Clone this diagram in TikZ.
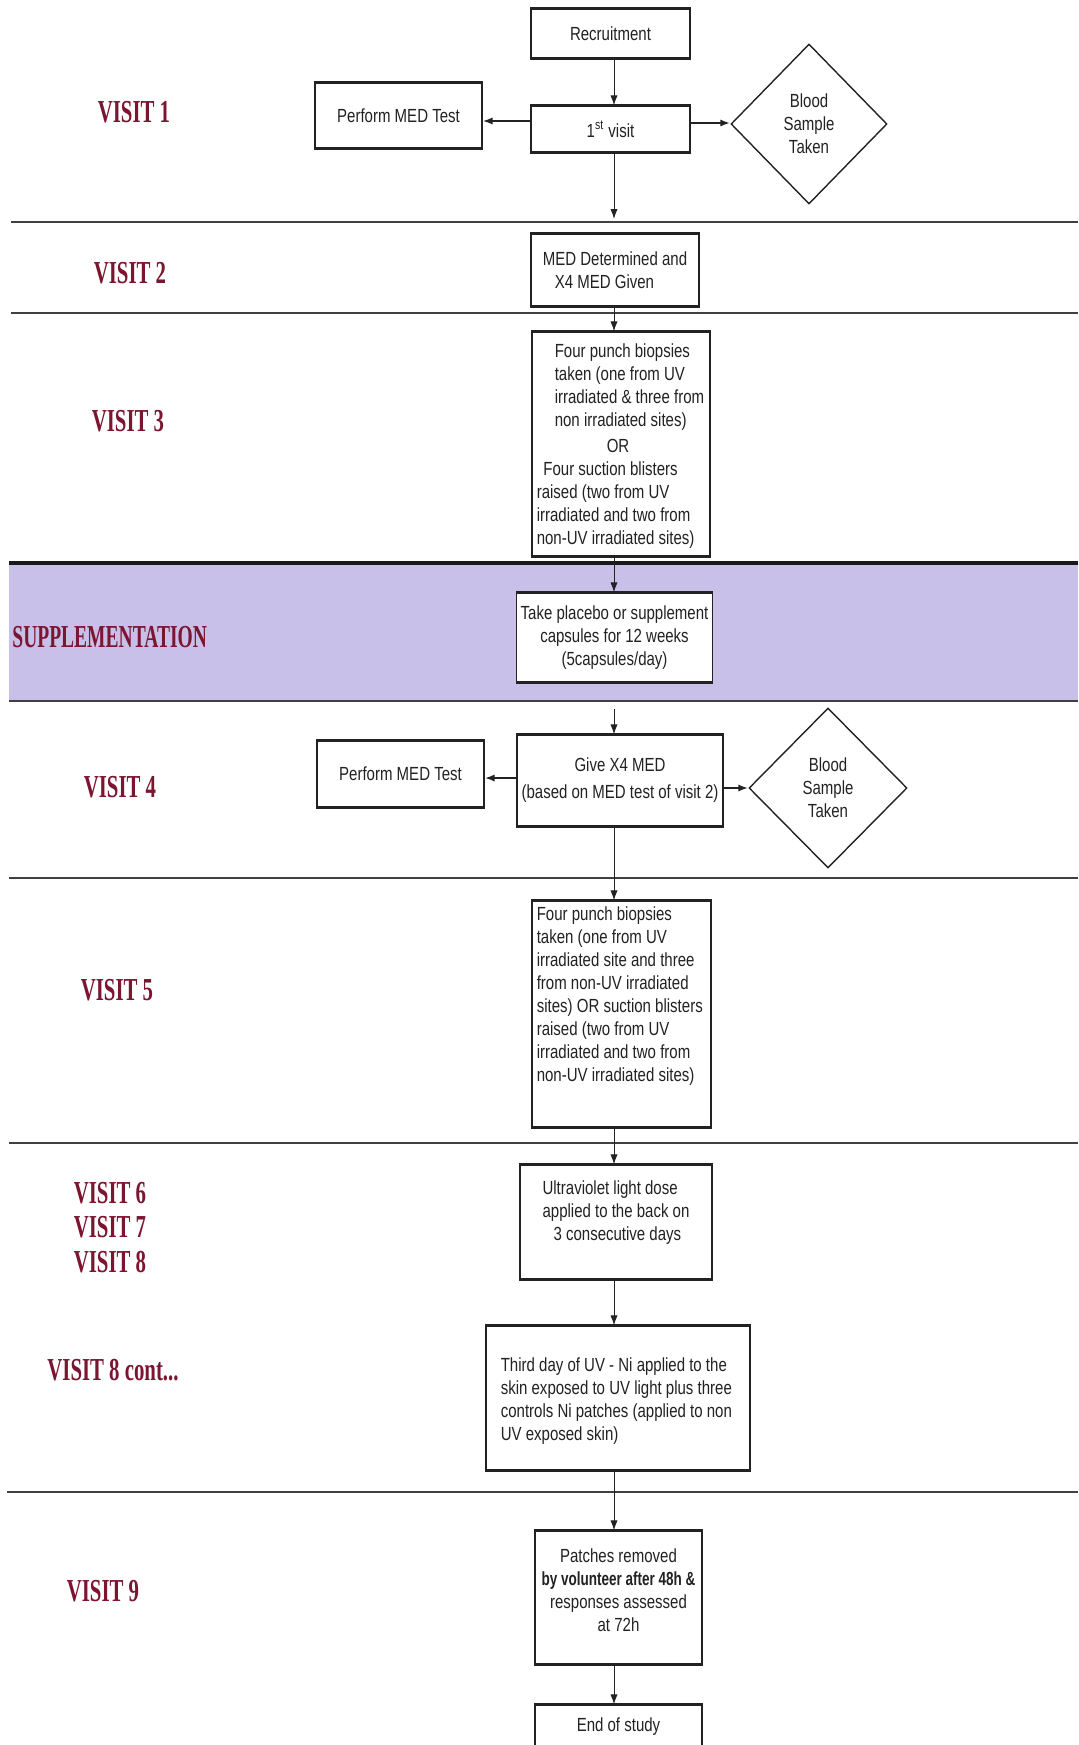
\documentclass[tikz,border=0pt]{standalone}
\usepackage{fontspec}
\setmainfont{Liberation Sans}
\newfontfamily\boxfont[FakeStretch=0.79]{Liberation Sans}
\newfontfamily\boxfontnarrow[FakeStretch=0.71]{Liberation Sans}
\newfontfamily\labfont[FakeStretch=0.65]{Liberation Serif}
\newfontfamily\labfontnarrow[FakeStretch=0.61]{Liberation Serif}
\usetikzlibrary{shapes.geometric,arrows.meta}
\definecolor{labred}{HTML}{7B1530}
\definecolor{bandcol}{HTML}{C8C0E8}
\definecolor{ink}{HTML}{222222}
\tikzset{
  fbox/.style={draw=ink, line width=0.6pt, fill=white, rectangle, inner sep=2pt,
    font=\boxfont\fontsize{9.5}{11.5}\selectfont, text=ink, align=center},
  dbox/.style={diamond, draw=ink, line width=0.7pt, fill=white, inner sep=0pt,
    font=\boxfont\fontsize{9.5}{11.5}\selectfont, text=ink, align=center},
  txt/.style={font=\boxfont\fontsize{9.5}{11.5}\selectfont, text=ink, inner sep=0pt},
  lab/.style={font=\labfont\bfseries\fontsize{16}{19}\selectfont, text=labred, align=left, inner sep=0pt},
  sepline/.style={draw=black!75, line width=1pt},
  septhick/.style={draw=black!90, line width=1.6pt},
  edgeline/.style={draw=ink, line width=1.3pt},
  arr/.style={-{Latex[length=5pt,width=3.6pt]}, line width=0.5pt, draw=ink},
  harr/.style={arr, line width=1.1pt}
}
\begin{document}
\begin{tikzpicture}[x=0.5pt,y=-0.5pt]
\useasboundingbox (0,0) rectangle (1078,1745);
\clip (0,0) rectangle (1078,1745);
\fill[white] (0,0) rectangle (1078,1745);
% supplementation band
\fill[bandcol] (9,563) rectangle (1078,701);
% separators
\draw[sepline] (11,222) -- (1078,222);
\draw[sepline] (11,313) -- (1078,313);
\draw[septhick] (9,563) -- (1078,563);
\draw[sepline] (9,701) -- (1078,701);
\draw[sepline] (9,878) -- (1078,878);
\draw[sepline] (9,1143) -- (1078,1143);
\draw[sepline] (7,1492) -- (1078,1492);

% helper coordinates
\coordinate (col) at (614,0);
\coordinate (a1) at (614,219);
\coordinate (s1) at (614,709);
\coordinate (h1l) at (0,121);
\coordinate (h1r) at (0,123);
\coordinate (h4l) at (0,778);
\coordinate (h4r) at (0,788);

% labels
\node[lab] (l1) at (134,112) {VISIT 1};
\node[lab] (l2) at (130,273) {VISIT 2};
\node[lab] (l3) at (128,421) {VISIT 3};
\node[lab,anchor=west,font=\labfontnarrow\bfseries\fontsize{16}{19}\selectfont] (ls) at (12,637) {SUPPLEMENTATION};
\node[lab] (l4) at (120,787) {VISIT 4};
\node[lab] (l5) at (117,990) {VISIT 5};
\node[lab] (l6) at (110,1193) {VISIT 6};
\node[lab] (l7) at (110,1227) {VISIT 7};
\node[lab] (l8) at (110,1262) {VISIT 8};
\node[lab] (l8c) at (113,1370) {VISIT 8 cont...};
\node[lab] (l9) at (103,1591) {VISIT 9};

% boxes
\node[fbox, minimum width=79.5pt, minimum height=24.5pt] (rec) at (610.5,33.5) {Recruitment};
\node[fbox, minimum width=79.5pt, minimum height=23pt] (v1) at (610.5,129) {1\textsuperscript{st} visit};
\node[fbox, minimum width=83.5pt, minimum height=32.5pt] (med1) at (398.5,115.5) {Perform MED Test};
\node[dbox, minimum width=78pt, minimum height=80pt] (dia1) at (809,124) {Blood\\Sample\\Taken};

\node[fbox, minimum width=84pt, minimum height=36pt, align=left] (v2) at (615,270) {MED Determined and\\\hspace*{6pt}X4 MED Given};

\node[fbox, minimum width=89pt, minimum height=112pt] (v3) at (621,444) {};
\node[txt, anchor=west, align=left] (v3t) at ([xshift=2.5pt,yshift=-1pt]v3.west)
 {\hspace*{9pt}Four punch biopsies\\\hspace*{9pt}taken (one from UV\\\hspace*{9pt}irradiated \& three from\\\hspace*{9pt}non irradiated sites)\\[1.5pt]\hspace*{35pt}OR\\\hspace*{3.3pt}Four suction blisters\\raised (two from UV\\irradiated and two from\\non-UV irradiated sites)};

\node[fbox, minimum width=97.5pt, minimum height=44.5pt] (sup) at (614.5,637.5) {Take placebo or supplement\\capsules for 12 weeks\\(5capsules/day)};

\node[fbox, minimum width=103pt, minimum height=45.5pt] (v4) at (620,780.5) {Give X4 MED\\[2pt](based on MED test of visit 2)};
\node[fbox, minimum width=83.5pt, minimum height=33pt] (med4) at (400.5,774) {Perform MED Test};
\node[dbox, minimum width=79pt, minimum height=80pt] (dia4) at (828,788) {Blood\\Sample\\Taken};

\node[fbox, minimum width=89.5pt, minimum height=113pt] (v5) at (621.5,1014) {};
\node[txt, anchor=north west, align=left] (v5t) at ([xshift=2.5pt,yshift=-3pt]v5.north west)
 {Four punch biopsies\\taken (one from UV\\irradiated site and three\\from non-UV irradiated\\sites) OR suction blisters\\raised (two from UV\\irradiated and two from\\non-UV irradiated sites)};

\node[fbox, minimum width=96pt, minimum height=57pt] (v6) at (616,1222) {};
\node[txt, align=left] (v6t) at ([yshift=4.5pt]v6.center)
 {Ultraviolet light dose\\applied to the back on\\\hspace*{5.5pt}3 consecutive days};

\node[fbox, minimum width=132pt, minimum height=72pt] (v8) at (618,1398) {};
\node[txt, anchor=west, align=left] (v8t) at ([xshift=7.5pt,yshift=-1.5pt]v8.west)
 {Third day of UV - Ni applied to the\\skin exposed to UV light plus three\\controls Ni patches (applied to non\\UV exposed skin)};

\node[fbox, minimum width=83.5pt, minimum height=66.5pt] (v9) at (618.5,1597.5) {};
\node[txt, align=center] (v9t) at ([yshift=3.5pt]v9.center)
 {Patches removed\\{\boxfontnarrow\bfseries by volunteer after 48h \&}\\responses assessed\\at 72h};

\node[fbox, minimum width=83.5pt, minimum height=35pt] (end) at (618.5,1740) {};
\node[txt] (endt) at (618.5,1727) {End of study};

% thick top/bottom edges of boxes
\foreach \n in {rec,v1,med1,v2,v3,sup,v4,med4,v5,v6,v8,v9,end}{
  \draw[edgeline] (\n.north west) -- (\n.north east);
  \draw[edgeline] (\n.south west) -- (\n.south east);
}

% connectors
\draw[arr] (rec.south -| col) -- (v1.north -| col);
\draw[harr] (v1.west |- h1l) -- (med1.east |- h1l);
\draw[harr] (v1.east |- h1r) -- (dia1.west |- h1r);
\draw[arr] (v1.south -| col) -- (a1);
\draw[arr] (v2.south -| col) -- (v3.north -| col);
\draw[arr] (v3.south -| col) -- (sup.north -| col);
\draw[arr] (s1) -- (v4.north -| col);
\draw[harr] (v4.west |- h4l) -- (med4.east |- h4l);
\draw[harr] (v4.east |- h4r) -- (dia4.west);
\draw[arr] (v4.south -| col) -- (v5.north -| col);
\draw[arr] (v5.south -| col) -- (v6.north -| col);
\draw[arr] (v6.south -| col) -- (v8.north -| col);
\draw[arr] (v8.south -| col) -- (v9.north -| col);
\draw[arr] (v9.south -| col) -- (end.north -| col);
\end{tikzpicture}
\end{document}
